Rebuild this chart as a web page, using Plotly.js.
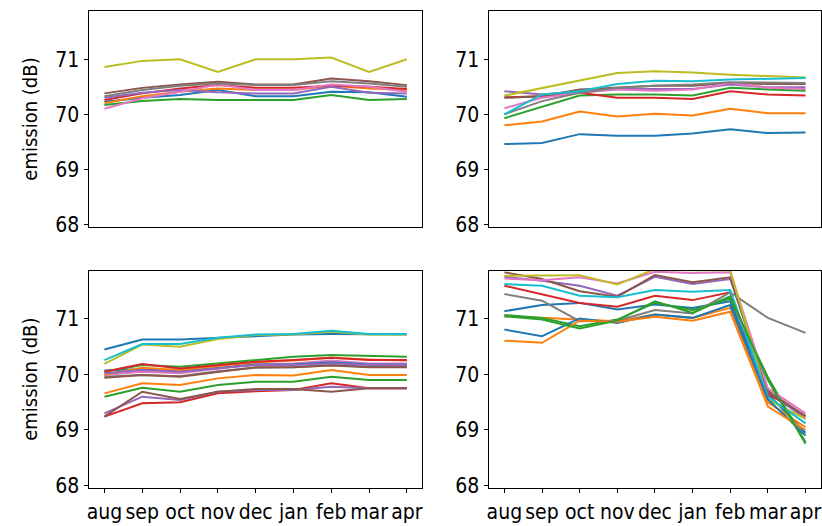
<!DOCTYPE html>
<html>
<head>
<meta charset="utf-8">
<script src="https://cdn.plot.ly/plotly-3.0.1.min.js"></script>
<style>html,body{margin:0;padding:0;background:#fff;}#chart{width:822px;height:526px;}</style>
</head>
<body>
<div id="chart"></div>
<script>
var months = ["aug","sep","oct","nov","dec","jan","feb","mar","apr"];
var colors = ["#1f77b4","#ff7f0e","#2ca02c","#d62728","#9467bd","#8c564b","#e377c2","#7f7f7f","#bcbd22","#17becf"];
var yTicks = [68, 69, 70, 71];
var yLabel = "emission (dB)";

var topLeft = [
  [70.23,70.30,70.35,70.44,70.33,70.33,70.41,70.40,70.32],
  [70.20,70.33,70.41,70.47,70.44,70.44,70.52,70.47,70.44],
  [70.17,70.24,70.28,70.26,70.26,70.26,70.35,70.26,70.28],
  [70.26,70.38,70.47,70.53,70.48,70.48,70.52,70.50,70.46],
  [70.30,70.39,70.44,70.40,70.38,70.38,70.50,70.39,70.38],
  [70.38,70.48,70.54,70.59,70.54,70.54,70.65,70.60,70.53],
  [70.10,70.29,70.41,70.54,70.44,70.44,70.54,70.50,70.41],
  [70.33,70.44,70.52,70.56,70.53,70.53,70.60,70.56,70.50],
  [70.86,70.97,71.00,70.77,71.00,71.00,71.03,70.77,71.00]
];

var topRight = [
  [69.46,69.48,69.64,69.61,69.61,69.65,69.73,69.66,69.67],
  [69.80,69.87,70.05,69.96,70.01,69.98,70.10,70.02,70.02],
  [69.93,70.14,70.34,70.36,70.36,70.34,70.48,70.45,70.43],
  [70.31,70.33,70.39,70.30,70.30,70.28,70.42,70.36,70.34],
  [70.42,70.36,70.42,70.46,70.46,70.46,70.54,70.49,70.49],
  [70.30,70.33,70.45,70.49,70.52,70.52,70.57,70.55,70.55],
  [70.11,70.30,70.39,70.45,70.43,70.45,70.57,70.48,70.46],
  [70.00,70.24,70.39,70.48,70.52,70.54,70.58,70.57,70.57],
  [70.34,70.48,70.61,70.75,70.78,70.76,70.72,70.69,70.67],
  [70.00,70.36,70.42,70.55,70.61,70.60,70.63,70.64,70.66]
];

var bottomLeft = [
  [70.45,70.63,70.63,70.66,70.70,70.72,70.73,70.72,70.72],
  [69.66,69.84,69.81,69.93,69.99,69.98,70.08,69.99,69.99],
  [69.60,69.76,69.69,69.81,69.87,69.87,69.96,69.90,69.90],
  [69.24,69.48,69.50,69.66,69.70,69.72,69.84,69.75,69.75],
  [69.30,69.60,69.54,69.69,69.72,69.72,69.78,69.75,69.75],
  [69.24,69.69,69.56,69.69,69.74,69.74,69.69,69.75,69.75],
  [69.99,70.05,70.02,70.11,70.19,70.20,70.25,70.20,70.20],
  [69.96,69.99,69.97,70.06,70.12,70.13,70.17,70.14,70.14],
  [70.19,70.54,70.50,70.64,70.71,70.72,70.77,70.72,70.72],
  [70.26,70.55,70.55,70.66,70.72,70.73,70.79,70.73,70.73],
  [70.07,70.10,70.06,70.12,70.18,70.18,70.22,70.18,70.18],
  [70.00,70.12,70.08,70.15,70.22,70.25,70.30,70.27,70.25],
  [70.05,70.17,70.14,70.20,70.26,70.32,70.35,70.34,70.32],
  [70.05,70.19,70.11,70.17,70.23,70.26,70.30,70.26,70.26],
  [70.02,70.08,70.05,70.11,70.17,70.17,70.20,70.17,70.17],
  [69.94,69.99,69.96,70.05,70.13,70.13,70.16,70.13,70.13]
];

var bottomRight = [
  [71.14,71.25,71.29,71.17,71.26,71.20,71.32,69.65,68.95],
  [71.05,71.02,70.99,70.96,71.08,71.02,71.20,69.50,69.05],
  [71.07,71.02,70.87,70.99,71.29,71.16,71.37,69.95,68.78],
  [71.60,71.45,71.29,71.22,71.42,71.34,71.48,69.65,69.25],
  [71.76,71.69,71.60,71.42,71.76,71.63,71.72,69.70,69.20],
  [71.84,71.72,71.50,71.40,71.79,71.66,71.75,69.70,69.25],
  [71.73,71.70,71.75,71.64,71.85,71.83,71.84,69.75,69.30],
  [71.45,71.33,70.96,70.97,71.16,71.10,71.48,71.02,70.75],
  [71.78,71.79,71.79,71.62,71.90,71.88,71.88,69.55,69.20],
  [71.63,71.60,71.42,71.39,71.52,71.49,71.52,69.60,69.12],
  [70.81,70.69,71.01,70.93,71.08,71.02,71.25,69.55,68.90],
  [70.61,70.57,70.97,70.95,71.04,70.97,71.13,69.42,69.00],
  [71.05,70.99,70.83,70.97,71.32,71.11,71.41,69.90,68.75]
];

var panels = [
  {data: topLeft, xa: "x", ya: "y"},
  {data: topRight, xa: "x2", ya: "y2"},
  {data: bottomLeft, xa: "x3", ya: "y3"},
  {data: bottomRight, xa: "x4", ya: "y4"}
];

var traces = [];
panels.forEach(function(p){
  p.data.forEach(function(vals, i){
    traces.push({
      x: months, y: vals, xaxis: p.xa, yaxis: p.ya,
      type: "scatter", mode: "lines",
      line: {color: colors[i % colors.length], width: 2},
      showlegend: false, hoverinfo: "skip"
    });
  });
});

var W = 822, H = 526;
var font = {family: "DejaVu Sans Condensed, DejaVu Sans", size: 21, color: "#000"};
function xAxis(dom, anchor, labels){
  return {
    domain: dom, anchor: anchor, type: "category",
    categoryorder: "array", categoryarray: months,
    range: [-0.4, 8.4],
    showline: true, mirror: true, linecolor: "#000", linewidth: 1.2,
    showgrid: false, zeroline: false,
    ticks: labels ? "outside" : "", ticklen: 4.5, tickwidth: 1, tickcolor: "#000",
    showticklabels: labels, tickfont: font
  };
}
function yAxis(dom, anchor, title){
  var a = {
    domain: dom, anchor: anchor,
    range: [67.96, 71.87],
    tickvals: yTicks, ticktext: yTicks.map(String),
    showline: true, mirror: true, linecolor: "#000", linewidth: 1.2,
    showgrid: false, zeroline: false,
    ticks: "outside", ticklen: 4.5, tickwidth: 1, tickcolor: "#000",
    tickfont: font
  };
  if (title) a.title = {text: yLabel, font: {family: font.family, size: 20, color: "#000"}, standoff: 12};
  return a;
}
var xL = [89.3/W, 422/W], xR = [489.3/W, 820.6/W];
var yT = [1 - 226.7/H, 1 - 11.3/H], yB = [1 - 487.7/H, 1 - 270.7/H];

var layout = {
  width: W, height: H,
  margin: {l: 0, r: 0, t: 0, b: 0},
  paper_bgcolor: "#fff", plot_bgcolor: "#fff",
  font: font,
  showlegend: false,
  xaxis: xAxis(xL, "y", false),
  yaxis: yAxis(yT, "x", true),
  xaxis2: xAxis(xR, "y2", false),
  yaxis2: yAxis(yT, "x2", false),
  xaxis3: xAxis(xL, "y3", true),
  yaxis3: yAxis(yB, "x3", true),
  xaxis4: xAxis(xR, "y4", true),
  yaxis4: yAxis(yB, "x4", false)
};

Plotly.newPlot("chart", traces, layout, {staticPlot: true, displayModeBar: false});
</script>
</body>
</html>
